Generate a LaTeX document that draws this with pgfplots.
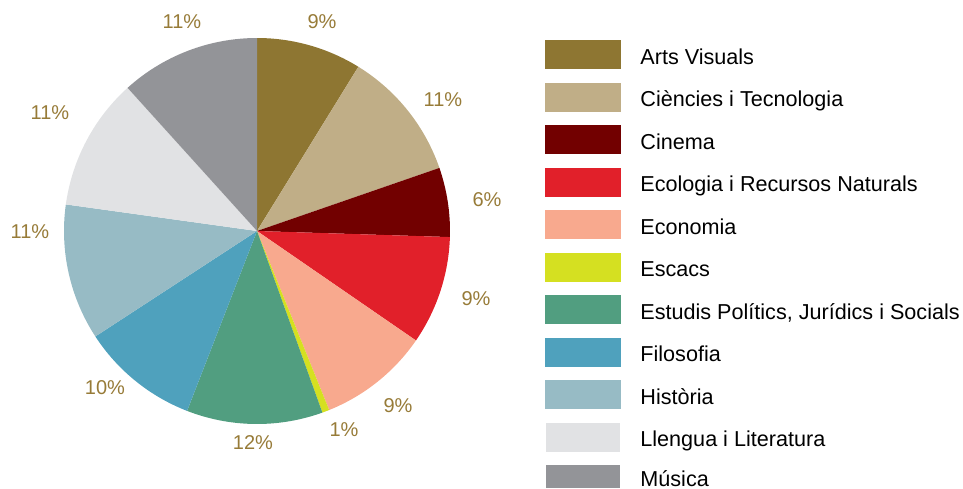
\documentclass[border=0pt]{standalone}
\usepackage{fontspec}
\setmainfont{Liberation Sans}
\usepackage{pgfplots}
\usepackage{pgfplotstable}
\pgfplotsset{compat=1.18}
\definecolor{cArts}{HTML}{8E7632}
\definecolor{cCien}{HTML}{C0AE87}
\definecolor{cCine}{HTML}{720000}
\definecolor{cEco}{HTML}{E1202A}
\definecolor{cEcon}{HTML}{F8A98E}
\definecolor{cEsc}{HTML}{D5E021}
\definecolor{cEst}{HTML}{519E80}
\definecolor{cFil}{HTML}{4FA1BD}
\definecolor{cHis}{HTML}{97BBC5}
\definecolor{cLle}{HTML}{E1E2E4}
\definecolor{cMus}{HTML}{939498}
\definecolor{cLab}{HTML}{977B38}

\pgfplotstableread{
pct col
8.8 cArts
10.9 cCien
5.8 cCine
9.1 cEco
9.3 cEcon
0.6 cEsc
11.4 cEst
9.9 cFil
11.4 cHis
11.1 cLle
11.7 cMus
}\piedata

\begin{document}
\begin{tikzpicture}
\useasboundingbox (0,0) rectangle (481.5pt,244pt);
\begin{axis}[
  x=0.5pt, y=0.5pt,
  xmin=0, xmax=963, ymin=0, ymax=488,
  y dir=reverse,
  hide axis, clip=false,
]
\def\cum{0}
\pgfplotsforeachungrouped \i in {0,...,10}{%
  \pgfplotstablegetelem{\i}{pct}\of\piedata \let\p\pgfplotsretval
  \pgfplotstablegetelem{\i}{col}\of\piedata \let\c\pgfplotsretval
  \pgfmathsetmacro\a{90-3.6*\cum}%
  \pgfmathsetmacro\b{90-3.6*(\cum+\p)}%
  \edef\tmp{\noexpand\fill[\c] (axis cs:257,231) -- ++(\a:96.5pt) arc[start angle=\a, end angle=\b, radius=96.5pt] -- cycle;}%
  \tmp
  \pgfmathsetmacro\cum{\cum+\p}%
}
% slice labels
\begin{scope}[every node/.style={text=cLab, font=\fontsize{10}{12}\selectfont, inner sep=0pt}]
\node at (axis cs:322,22) {9\%};
\node at (axis cs:443,100) {11\%};
\node at (axis cs:487,200) {6\%};
\node at (axis cs:476,299) {9\%};
\node at (axis cs:398,406) {9\%};
\node at (axis cs:344,430) {1\%};
\node at (axis cs:253,443) {12\%};
\node at (axis cs:105,388) {10\%};
\node at (axis cs:30,232) {11\%};
\node at (axis cs:50,113) {11\%};
\node at (axis cs:182,22) {11\%};
\end{scope}
% legend
\begin{scope}[every node/.style={anchor=base west, inner sep=0pt, font=\fontsize{10.8}{13}\selectfont}]
\fill[cArts] (axis cs:545,40) rectangle (axis cs:621,69);
\node at (axis cs:640,64) {Arts Visuals};
\fill[cCien] (axis cs:545,82.5) rectangle (axis cs:621,111.5);
\node at (axis cs:640,106.5) {Ciències i Tecnologia};
\fill[cCine] (axis cs:545,125) rectangle (axis cs:621,154);
\node at (axis cs:640,149) {Cinema};
\fill[cEco] (axis cs:545,167.5) rectangle (axis cs:621,196.5);
\node at (axis cs:640,191.5) {Ecologia i Recursos Naturals};
\fill[cEcon] (axis cs:545,210) rectangle (axis cs:621,239);
\node at (axis cs:640,234) {Economia};
\fill[cEsc] (axis cs:545,252.5) rectangle (axis cs:621,281.5);
\node at (axis cs:640,276.5) {Escacs};
\fill[cEst] (axis cs:545,295) rectangle (axis cs:621,324);
\node at (axis cs:640,319) {Estudis Polítics, Jurídics i Socials};
\fill[cFil] (axis cs:545,337.5) rectangle (axis cs:621,366.5);
\node at (axis cs:640,361.5) {Filosofia};
\fill[cHis] (axis cs:545,380) rectangle (axis cs:621,409);
\node at (axis cs:640,404) {Història};
\fill[cLle] (axis cs:546,422.5) rectangle (axis cs:620,451.5);
\node at (axis cs:640,446.5) {Llengua i Literatura};
\fill[cMus] (axis cs:546,465) rectangle (axis cs:620,488);
\node at (axis cs:640,486) {Música};
\end{scope}
\end{axis}
\end{tikzpicture}
\end{document}
